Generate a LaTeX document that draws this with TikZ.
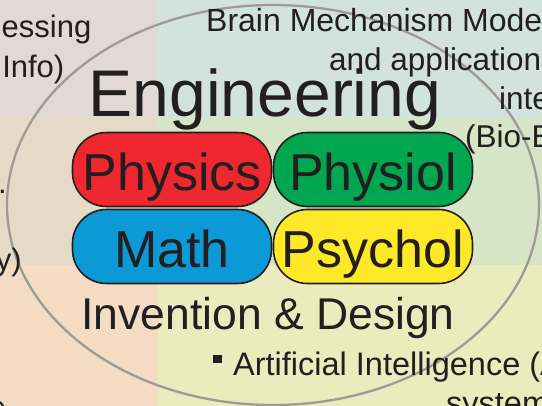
\documentclass[tikz,border=0pt]{standalone}
\usepackage{fontspec}
\setmainfont{Liberation Sans}
\usepackage{xcolor}
\definecolor{inkdark}{RGB}{35,31,32}
\definecolor{ringgray}{RGB}{158,154,148}
\definecolor{bgtl}{RGB}{226,216,213}
\definecolor{bgtr}{RGB}{210,227,221}
\definecolor{bgml}{RGB}{229,218,198}
\definecolor{bgmr}{RGB}{214,229,197}
\definecolor{bgbl}{RGB}{243,220,195}
\definecolor{bgbr}{RGB}{236,235,189}
\definecolor{pillred}{RGB}{238,40,46}
\definecolor{pillgreen}{RGB}{0,166,80}
\definecolor{pillblue}{RGB}{12,154,214}
\definecolor{pillyellow}{RGB}{253,233,40}

\tikzset{
  pill/.style={draw=inkdark, line width=1.6pt, rounded corners=34pt,
    minimum width=199pt, minimum height=74pt, inner sep=0pt,
    text height=42pt, text depth=0pt, text=inkdark,
    font=\fontsize{52}{52}\selectfont},
  sidetext/.style={inner sep=0pt, text=inkdark, font=\fontsize{31}{31}\selectfont},
  ring/.style={draw=ringgray, line width=2.3pt}
}

\begin{document}
\begin{tikzpicture}[x=1pt, y=-1pt]
        \useasboundingbox (0,0) rectangle (542,406);
        % background quarters
        \fill[bgtl] (0,0) rectangle (158,118);
        \fill[bgtr] (158,0) rectangle (542,118);
        \fill[bgml] (0,118) rectangle (158,265);
        \fill[bgmr] (158,118) rectangle (542,265);
        \fill[bgbl] (0,265) rectangle (158,406);
        \fill[bgbr] (158,265) rectangle (542,406);
        \draw[ring] (273,205) ellipse [x radius=266pt, y radius=200pt];
        % side texts
        \node[sidetext, anchor=base east] at (91.5, 38) (proc) {essing};
        \node[sidetext, anchor=base east] at (64.5, 78) (info) {Info)};
        \node[sidetext, anchor=base east] at (7, 194) (dot) {.};
        \node[sidetext, anchor=base east] at (22, 271) (ylast) {y)};
        \node[sidetext, anchor=base east] at (9, 425) (paren) {)};
        \node[sidetext, anchor=base west, font=\fontsize{32}{32}\selectfont] at (206, 32) (brain) {Brain Mechanism Mode};
        \node[sidetext, anchor=base west, font=\fontsize{31.5}{31.5}\selectfont] at (329, 71) (appl) {and application};
        \node[sidetext, anchor=base west, font=\fontsize{31.5}{31.5}\selectfont] at (499, 110) (inte) {inte};
        \node[sidetext, anchor=base west, font=\fontsize{31.5}{31.5}\selectfont] at (465, 148) (bio) {(Bio-E};
        % centre
        \node[anchor=base, inner sep=0pt, text=inkdark, font=\fontsize{66}{66}\selectfont] at (265, 117) (eng) {Engineering};
        \node[pill, fill=pillred] at (172, 169.5) (phys) {Physics};
        \node[pill, fill=pillgreen] at (373, 169.5) (physio) {Physiol};
        \node[pill, fill=pillblue] at (172, 246.5) (math) {Math};
        \node[pill, fill=pillyellow] at (373, 246.5) (psych) {Psychol};
        \node[anchor=base, inner sep=0pt, text=inkdark, font=\fontsize{44.5}{44.5}\selectfont] at (268, 330) (inv) {Invention \& Design};
        % bottom list
        \node[fill=inkdark, inner sep=0pt, minimum size=8.5pt] at (217.5, 359) (bullet) {};
        \node[sidetext, anchor=base west, font=\fontsize{32.5}{32.5}\selectfont] at (233, 376) (ai) {Artificial Intelligence (A};
        \node[sidetext, anchor=base west, font=\fontsize{32.5}{32.5}\selectfont] at (446, 415) (sys) {system};
\end{tikzpicture}
\end{document}
